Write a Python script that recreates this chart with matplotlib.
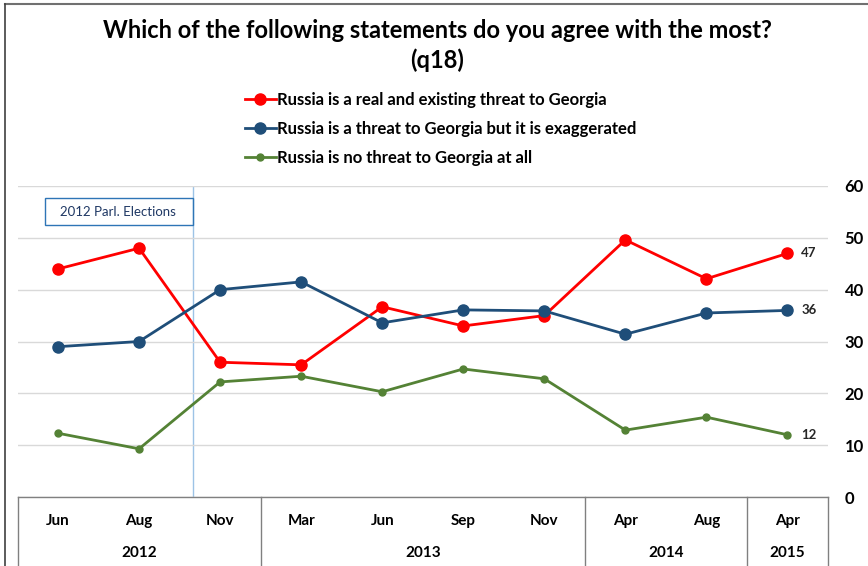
import matplotlib.pyplot as plt
from matplotlib.lines import Line2D
from matplotlib.patches import Rectangle

plt.rcParams['font.family'] = ['Lato', 'DejaVu Sans']

months = ['Jun', 'Aug', 'Nov', 'Mar', 'Jun', 'Sep', 'Nov', 'Apr', 'Aug', 'Apr']
years = ['2012', '2013', '2014', '2015']
year_spans = [(0, 2), (3, 6), (7, 8), (9, 9)]

real_threat = [44, 48, 26, 25.5, 36.7, 33, 35, 49.6, 42.1, 47]
exaggerated = [29, 30, 40, 41.5, 33.6, 36.1, 35.9, 31.4, 35.5, 36]
no_threat = [12.3, 9.3, 22.2, 23.3, 20.3, 24.7, 22.8, 12.9, 15.4, 12]

labels = ['Russia is a real and existing threat to Georgia',
          'Russia is a threat to Georgia but it is exaggerated',
          'Russia is no threat to Georgia at all']
colors = ['#FF0000', '#1F4E79', '#548235']
election_x = 1.66

fig = plt.figure(figsize=(8.68, 5.66), dpi=100, facecolor='white')
ax = fig.add_axes([17.5 / 868, 1 - 497 / 566, (828 - 17.5) / 868, (497 - 186) / 566])

x = list(range(len(months)))
series = [real_threat, exaggerated, no_threat]
msizes = [8, 8, 5]
handles = []
for vals, c, ms, lab in zip(series, colors, msizes, labels):
    h, = ax.plot(x, vals, color=c, lw=2, marker='o', ms=ms, label=lab, zorder=3)
    handles.append(h)

for vals in series:
    ax.text(x[-1] + 0.17, vals[-1], f'{vals[-1]:.0f}', va='center', ha='left',
            fontsize=9.5, fontweight='bold', color='#262626')

ax.set_xlim(-0.5, 9.5)
ax.set_ylim(0, 60)
ax.set_yticks(range(0, 61, 10))
ax.yaxis.tick_right()
ax.tick_params(axis='y', length=0, pad=12, labelsize=12)
for t in ax.get_yticklabels():
    t.set_fontweight('bold')
ax.set_xticks([])
ax.grid(axis='y', color='#D9D9D9', lw=1)
for sp in ax.spines.values():
    sp.set_visible(False)

# election marker
ax.axvline(election_x, color='#9DC3E6', lw=1, zorder=1)
bx0 = 45 / 868
fig.text(118 / 868, 1 - 212 / 566, '2012 Parl. Elections', ha='center', va='center',
         fontsize=9.5, color='#1F3864')
fig.patches.append(Rectangle((bx0, 1 - 225 / 566), (193 - 45) / 868, 27 / 566,
                             transform=fig.transFigure, fill=False,
                             edgecolor='#2E75B6', lw=1))

# category table below the plot
tr = ax.get_xaxis_transform()
ax.plot([-0.5, 9.5], [0, 0], color='#808080', lw=1, transform=tr, clip_on=False)
for b in [-0.5, 2.5, 6.5, 8.5, 9.5]:
    ax.plot([b, b], [0, -0.25], color='#808080', lw=1, transform=tr, clip_on=False)
for i, m in enumerate(months):
    ax.text(i, -24 / 311, m, ha='center', va='center', fontsize=11,
            fontweight='bold', transform=tr)
for yr, (a, b) in zip(years, year_spans):
    ax.text((a + b) / 2, -56 / 311, yr, ha='center', va='center', fontsize=11,
            fontweight='bold', transform=tr)

# legend
fig.legend(handles=handles, loc='upper left', bbox_to_anchor=(238 / 868, 1 - 85 / 566),
           frameon=False, prop={'weight': 'bold', 'size': 12}, handlelength=1.9,
           handletextpad=0.05, labelspacing=0.78, borderaxespad=0)

fig.text(437 / 868, 1 - 30 / 566, 'Which of the following statements do you agree with the most?',
         ha='center', va='center', fontsize=17, fontweight='bold')
fig.text(437 / 868, 1 - 60 / 566, '(q18)', ha='center', va='center', fontsize=17,
         fontweight='bold')

# outer frame
fig.add_artist(Line2D([5 / 868, 1], [1 - 4 / 566, 1 - 4 / 566], color='#707070', lw=1.5,
                      transform=fig.transFigure))
fig.add_artist(Line2D([5 / 868, 5 / 868], [0, 1 - 4 / 566], color='#404040', lw=1.2,
                      transform=fig.transFigure))

fig.savefig('out.png', dpi=100, facecolor='white')
